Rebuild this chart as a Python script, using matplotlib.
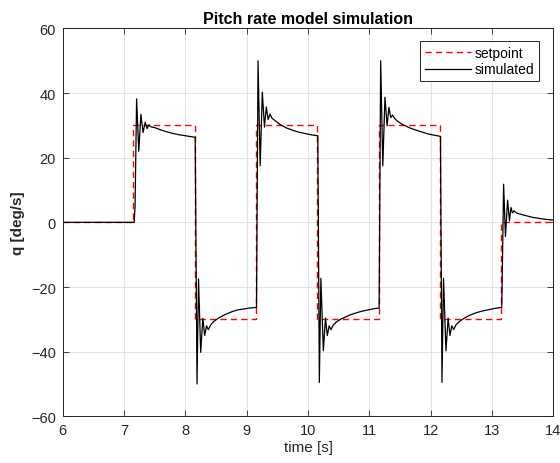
import numpy as np
import matplotlib.pyplot as plt

plt.rcParams['font.family'] = ['Liberation Sans', 'DejaVu Sans']

# setpoint: level held from each time until the next one
setpoint_t = [6.0, 7.15, 8.15, 9.15, 10.15, 11.15, 12.15, 13.15, 14.0]
setpoint_q = [0, 30, -30, 30, -30, 30, -30, 0, 0]

# simulated pitch rate
sim_t = [6.0, 7.165,
         7.18, 7.205, 7.24, 7.275, 7.31, 7.345, 7.375, 7.405, 7.43,
         7.5, 7.6, 7.7, 7.8, 7.9, 8.0, 8.1, 8.16,
         8.19, 8.215, 8.25, 8.285, 8.315, 8.345, 8.375, 8.41,
         8.46, 8.55, 8.65, 8.75, 8.85, 8.95, 9.05, 9.16,
         9.185, 9.22, 9.255, 9.29, 9.32, 9.35, 9.38, 9.41,
         9.46, 9.55, 9.65, 9.75, 9.85, 9.95, 10.05, 10.16,
         10.185, 10.21, 10.25, 10.285, 10.315, 10.345, 10.375, 10.41,
         10.47, 10.55, 10.69, 10.8, 10.9, 11.0, 11.08, 11.16,
         11.185, 11.22, 11.255, 11.29, 11.32, 11.35, 11.38, 11.41,
         11.46, 11.53, 11.65, 11.75, 11.85, 11.95, 12.05, 12.16,
         12.185, 12.21, 12.25, 12.285, 12.315, 12.345, 12.375, 12.41,
         12.46, 12.55, 12.64, 12.75, 12.85, 12.95, 13.05, 13.16,
         13.19, 13.22, 13.255, 13.285, 13.31, 13.335, 13.36, 13.39,
         13.45, 13.55, 13.65, 13.75, 13.85, 13.95, 14.0]
sim_q = [0, 0,
         5, 38.2, 22, 33.4, 27.8, 31, 29, 30.2, 29.6,
         29.3, 28.6, 28.0, 27.5, 27.1, 26.8, 26.5, 26.3,
         -50, -17.5, -40.2, -29.7, -35, -32, -33.2, -31.8,
         -30.7, -29.5, -28.5, -27.7, -27.1, -26.8, -26.5, -26.3,
         50, 17.5, 40.3, 29.5, 35.7, 31.8, 33.5, 32.3,
         31.5, 30.2, 29.2, 28.5, 27.9, 27.5, 27.1, 26.8,
         -49.5, -17.3, -39.7, -29.6, -35, -32, -33.2, -31.8,
         -30.7, -29.8, -28.6, -27.9, -27.4, -27.0, -26.7, -26.5,
         50, 17.5, 38.7, 29.9, 35.6, 32.4, 33.2, 32.2,
         31.3, 30.4, 29.3, 28.6, 28.0, 27.4, 27.0, 26.6,
         -49.5, -17.3, -39.7, -29.6, -35, -32, -33.2, -31.8,
         -30.8, -29.6, -28.7, -27.9, -27.4, -27.0, -26.6, -26.3,
         11.8, -4.4, 6.9, 0.5, 4.6, 2.9, 3.6, 3.0,
         2.6, 2.1, 1.6, 1.3, 1.0, 0.8, 0.7]

fig = plt.figure(figsize=(5.6, 4.64), dpi=100)
ax = fig.add_axes([0.112, 0.1006, 0.876, 0.836])

ax.step(setpoint_t, setpoint_q, where='post', color='#ff0000', ls='--',
        lw=1.0, dashes=(4.5, 3), label='setpoint')
ax.plot(sim_t, sim_q, color='black', lw=0.9, label='simulated')

ax.set_xlim(6, 14)
ax.set_ylim(-60, 60)
ax.set_xticks(np.arange(6, 15, 1))
ax.set_yticks(np.arange(-60, 61, 20))
ax.grid(True, color='#e3e3e3', lw=0.8)
ax.set_axisbelow(True)
ax.tick_params(direction='in', top=True, right=True, length=4, width=0.6,
               labelsize=10.5, colors='#262626', pad=5)
for sp in ax.spines.values():
    sp.set_color('#262626')
    sp.set_linewidth(0.7)

ax.set_title('Pitch rate model simulation', fontsize=11.5, fontweight='bold', pad=4)
ax.set_xlabel('time [s]', fontsize=11, color='#262626', labelpad=2)
ax.set_ylabel('q [deg/s]', fontsize=11, fontweight='bold', color='#262626', labelpad=4)

leg = ax.legend(loc='upper right', bbox_to_anchor=(0.9715, 0.968), borderaxespad=0,
                fontsize=10, fancybox=False, framealpha=1, edgecolor='#262626',
                handlelength=3.3, borderpad=0.35, labelspacing=0.2, handletextpad=0.3)
leg.get_frame().set_linewidth(0.7)

fig.savefig('out.png', dpi=100)
